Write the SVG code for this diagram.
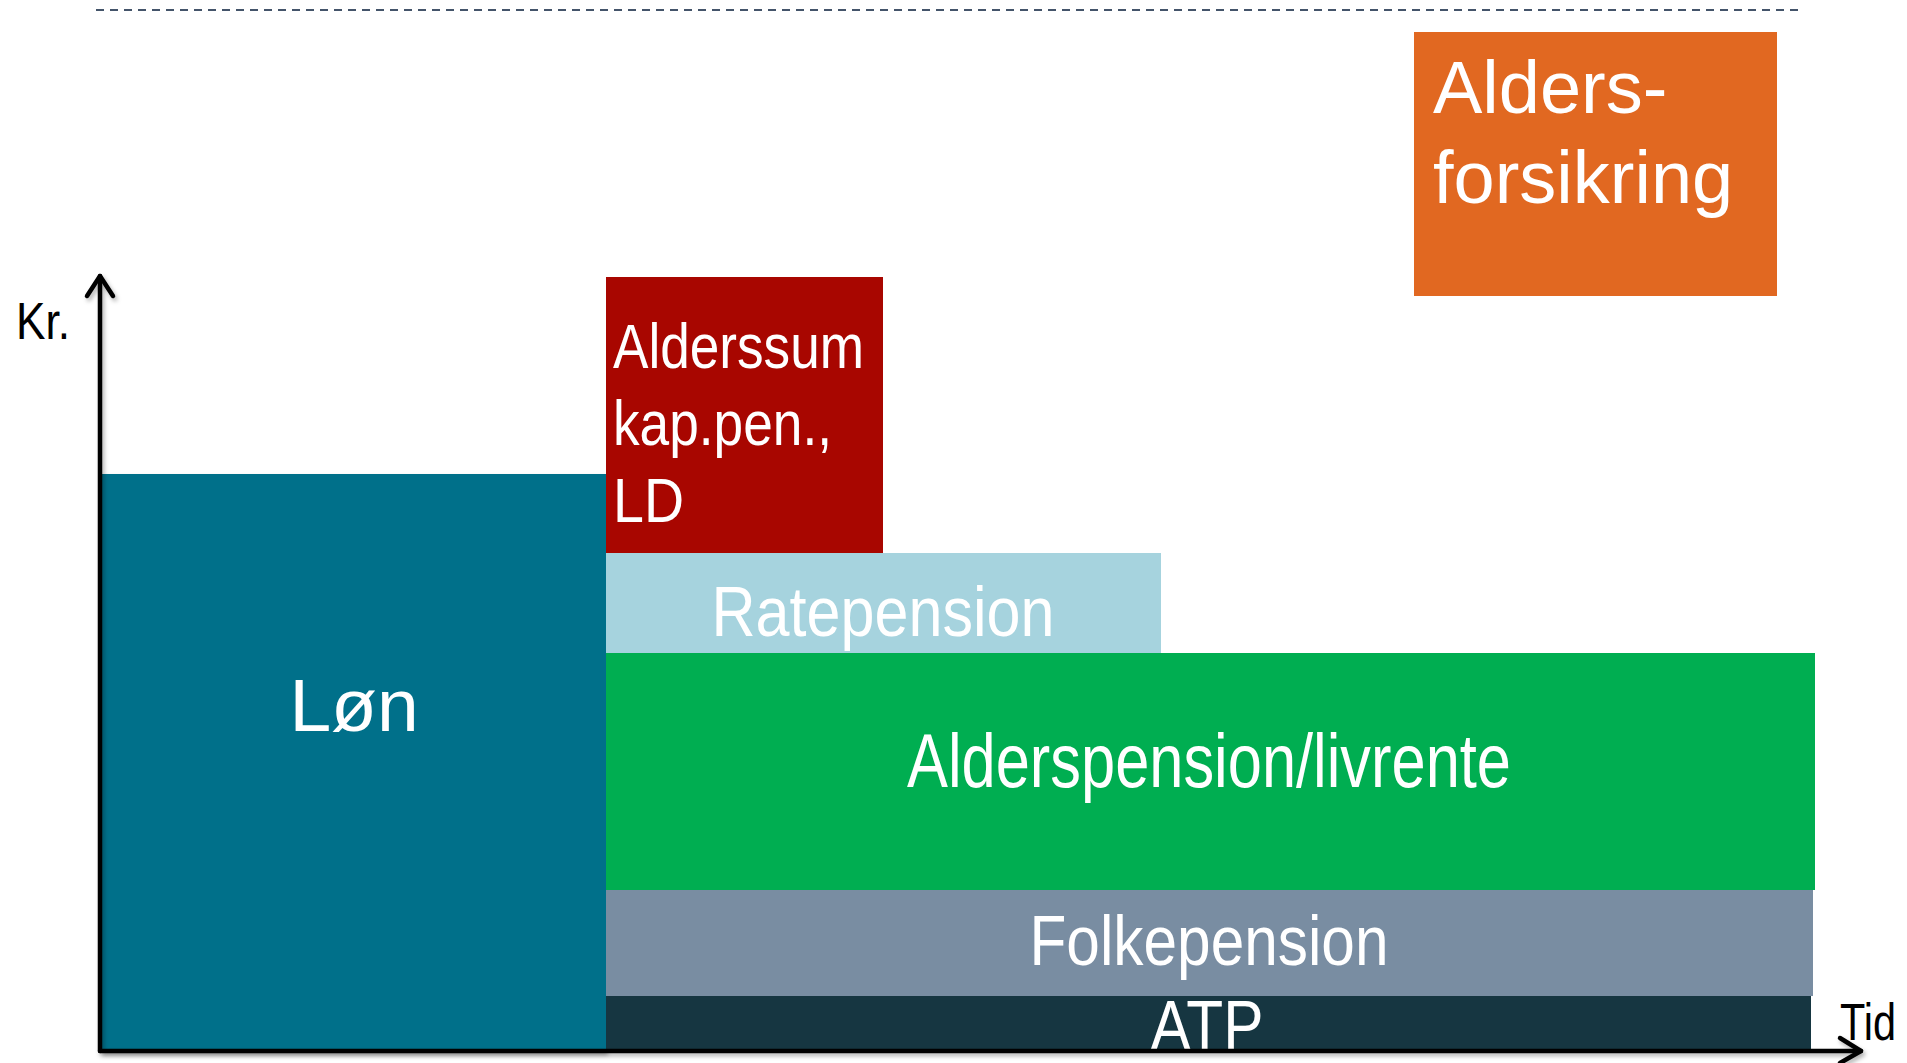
<svg xmlns="http://www.w3.org/2000/svg" width="1907" height="1063" viewBox="0 0 1907 1063">
<style>
  .lbl { font-family: "Liberation Sans", Arial, sans-serif; fill: #ffffff; }
  .ax { font-family: "Liberation Sans", Arial, sans-serif; fill: #000000; }
  .axis { stroke: #000000; stroke-width: 4.5; fill: none; stroke-linecap: round; stroke-linejoin: round; }
</style>
<defs>
  <filter id="shadow" x="-10%" y="-10%" width="120%" height="120%">
    <feDropShadow dx="2" dy="3" stdDeviation="2" flood-color="#000000" flood-opacity="0.3"/>
  </filter>
</defs>
<rect x="0" y="0" width="1907" height="1063" fill="#ffffff"/>
<line x1="96" y1="10" x2="1798" y2="10" stroke="#44546A" stroke-width="2" stroke-dasharray="8 6"/>

<g id="node-aldersforsikring">
  <rect x="1414" y="32" width="363" height="264" fill="#E16821"/>
  <text class="lbl" x="1433" y="113" font-size="74">Alders-</text>
  <text class="lbl" x="1433" y="203" font-size="74">forsikring</text>
</g>

<g id="node-lon">
  <rect x="101" y="474" width="505" height="578" fill="#006F8A" filter="url(#shadow)"/>
  <text class="lbl" x="354" y="731" font-size="75" text-anchor="middle">Løn</text>
</g>

<g id="node-alderssum">
  <rect x="606" y="277" width="277" height="276" fill="#A80600"/>
  <text class="lbl" x="613" y="368" font-size="63" textLength="251" lengthAdjust="spacingAndGlyphs">Alderssum</text>
  <text class="lbl" x="613" y="445" font-size="63" textLength="219" lengthAdjust="spacingAndGlyphs">kap.pen.,</text>
  <text class="lbl" x="613" y="522" font-size="63" textLength="71" lengthAdjust="spacingAndGlyphs">LD</text>
</g>

<g id="node-ratepension">
  <rect x="606" y="553" width="555" height="100" fill="#A6D3DE"/>
  <text class="lbl" x="883" y="636" font-size="71" text-anchor="middle" textLength="343" lengthAdjust="spacingAndGlyphs">Ratepension</text>
</g>

<g id="node-alderspension">
  <rect x="606" y="653" width="1209" height="237" fill="#00AE51"/>
  <text class="lbl" x="1209" y="787" font-size="76" text-anchor="middle" textLength="604" lengthAdjust="spacingAndGlyphs">Alderspension/livrente</text>
</g>

<g id="node-folkepension">
  <rect x="606" y="890" width="1207" height="106" fill="#798DA2"/>
  <text class="lbl" x="1209" y="965" font-size="70" text-anchor="middle" textLength="359" lengthAdjust="spacingAndGlyphs">Folkepension</text>
</g>

<g id="node-atp">
  <rect x="606" y="996" width="1205" height="56" fill="#163641"/>
  <text class="lbl" x="1207" y="1050" font-size="71" text-anchor="middle" textLength="113" lengthAdjust="spacingAndGlyphs">ATP</text>
</g>

<g id="connectors" filter="url(#shadow)">
  <line class="axis" x1="100" y1="1051" x2="100" y2="276"/>
  <polyline class="axis" points="87,296 100,276 113,296"/>
  <line class="axis" x1="100" y1="1051" x2="1861" y2="1051"/>
  <polyline class="axis" points="1840,1038 1861,1051 1840,1063"/>
</g>

<g id="axis-labels">
  <text class="ax" x="16" y="339" font-size="52" textLength="54" lengthAdjust="spacingAndGlyphs">Kr.</text>
  <text class="ax" x="1840" y="1040" font-size="52" textLength="56" lengthAdjust="spacingAndGlyphs">Tid</text>
</g>
</svg>
